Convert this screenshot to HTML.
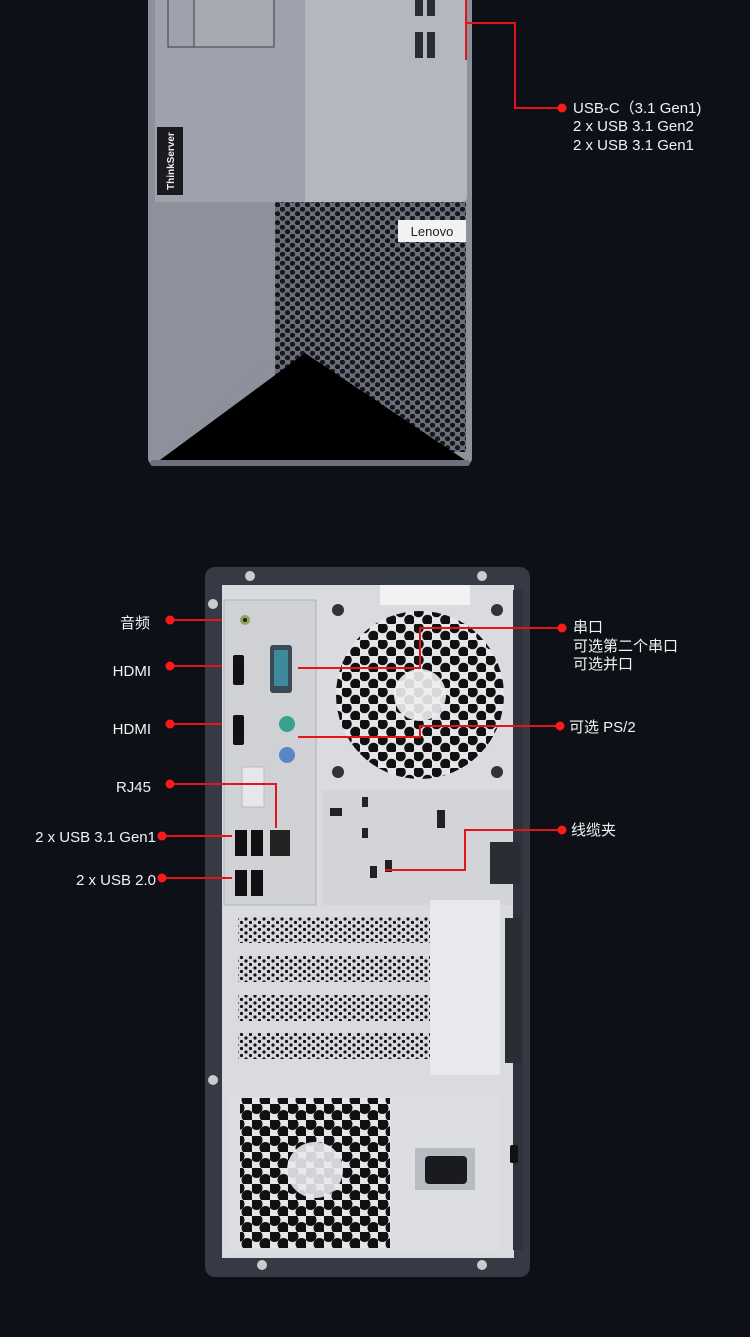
<!DOCTYPE html>
<html><head><meta charset="utf-8"><style>
html,body{margin:0;padding:0;background:#0d1017;}
body{width:750px;height:1332px;overflow:hidden;}
svg text{font-family:"Liberation Sans","Noto Sans CJK SC",sans-serif;fill:#f2f2f2;}
</style></head><body>
<svg width="750" height="1332" viewBox="0 0 750 1332" xmlns="http://www.w3.org/2000/svg">
<defs>
<pattern id="mesh" width="10" height="9" patternUnits="userSpaceOnUse">
<rect width="10" height="9" fill="#6a6f7a"/>
<circle cx="2.5" cy="2.2" r="2.6" fill="#15171c"/><circle cx="7.5" cy="6.7" r="2.6" fill="#15171c"/>
</pattern>
<pattern id="fanhex" width="18" height="16" patternUnits="userSpaceOnUse">
<rect width="18" height="16" fill="#e4e6ea"/>
<circle cx="4.5" cy="4" r="5.3" fill="#111"/><circle cx="13.5" cy="12" r="5.3" fill="#111"/>
</pattern>
<pattern id="psuhex" width="18" height="16" patternUnits="userSpaceOnUse">
<rect width="18" height="16" fill="#e4e6ea"/>
<circle cx="4.5" cy="4" r="6" fill="#111"/><circle cx="13.5" cy="12" r="6" fill="#111"/>
</pattern>
<pattern id="pci" width="9" height="7" patternUnits="userSpaceOnUse">
<rect width="9" height="7" fill="#d6d8dc"/>
<circle cx="3" cy="2" r="1.6" fill="#111"/><circle cx="7.5" cy="5.5" r="1.6" fill="#111"/>
</pattern>
</defs>

<!-- FRONT -->
<rect x="148" y="-10" width="324" height="476" rx="8" fill="#8c919c"/>
<rect x="150" y="460" width="320" height="6" rx="3" fill="#6c717b"/>
<rect x="155" y="-10" width="312" height="212" rx="5" fill="#b3b7bf"/>
<rect x="155" y="-10" width="150" height="212" fill="#9da2ac"/>
<rect x="168" y="-5" width="106" height="52" fill="none" stroke="#3b3f47" stroke-width="1"/>
<rect x="194" y="-5" width="80" height="52" fill="#a5a9b2" stroke="#3b3f47" stroke-width="1"/>
<rect x="157" y="127" width="26" height="68" fill="#1a1b1f"/>
<text x="0" y="0" transform="translate(174,190) rotate(-90)" font-size="10" font-weight="bold" style="fill:#eee">ThinkServer</text>
<rect x="415" y="0" width="8" height="16" fill="#2a2c31"/><rect x="427" y="0" width="8" height="16" fill="#2a2c31"/>
<rect x="415" y="32" width="8" height="26" fill="#2a2c31"/><rect x="427" y="32" width="8" height="26" fill="#2a2c31"/>
<rect x="275" y="202" width="191" height="250" fill="url(#mesh)"/>
<polygon points="150,202 275,202 275,355 160,460 150,460" fill="#8c919c"/>
<polygon points="305,353 160,460 465,460" fill="#000"/>
<rect x="398" y="220" width="68" height="22" fill="#f2f2f2"/>
<text x="432" y="236" font-size="13" text-anchor="middle" style="fill:#222">Lenovo</text>
<!-- front line -->
<polyline points="466,0 466,60" stroke="#e0161b" stroke-width="2" fill="none"/>
<polyline points="466,23 515,23 515,108 560,108" stroke="#e0161b" stroke-width="2" fill="none"/>
<circle cx="562" cy="108" r="4.5" fill="#ff1a1a"/>
<text x="573" y="113" font-size="15">USB-C（3.1 Gen1)</text>
<text x="573" y="131" font-size="15">2 x USB 3.1 Gen2</text>
<text x="573" y="150" font-size="15">2 x USB 3.1 Gen1</text>

<!-- BACK -->
<rect x="205" y="567" width="325" height="710" rx="10" fill="#353a45"/>
<rect x="222" y="585" width="292" height="673" fill="#d9dbdf"/>
<rect x="513" y="590" width="10" height="660" fill="#2d323c"/>
<!-- IO shield -->
<rect x="224" y="600" width="92" height="305" fill="#cfd1d5" stroke="#aeb1b7"/>
<circle cx="245" cy="620" r="5" fill="#8fa25a"/><circle cx="245" cy="620" r="2" fill="#222"/>
<rect x="233" y="655" width="11" height="30" rx="2" fill="#111"/>
<rect x="233" y="715" width="11" height="30" rx="2" fill="#111"/>
<rect x="270" y="645" width="22" height="48" rx="3" fill="#3a4a58"/><rect x="274" y="650" width="14" height="36" fill="#3d8a9a"/>
<circle cx="287" cy="724" r="8" fill="#3aa08e"/>
<circle cx="287" cy="755" r="8" fill="#5a86c8"/>
<rect x="242" y="767" width="22" height="40" fill="#e6e7ea" stroke="#bbb"/>
<rect x="235" y="830" width="12" height="26" fill="#111"/><rect x="251" y="830" width="12" height="26" fill="#111"/>
<rect x="270" y="830" width="20" height="26" fill="#222"/>
<rect x="235" y="870" width="12" height="26" fill="#111"/><rect x="251" y="870" width="12" height="26" fill="#111"/>
<!-- fan -->
<rect x="380" y="585" width="90" height="20" fill="#f2f2f2"/>
<circle cx="420" cy="695" r="84" fill="url(#fanhex)"/>
<circle cx="420" cy="695" r="26" fill="#eceef0" opacity="0.9"/>
<circle cx="338" cy="610" r="6" fill="#333"/><circle cx="497" cy="610" r="6" fill="#333"/>
<circle cx="338" cy="772" r="6" fill="#333"/><circle cx="497" cy="772" r="6" fill="#333"/>
<rect x="322" y="790" width="190" height="115" fill="#d2d4d8"/>
<rect x="330" y="808" width="12" height="8" fill="#222"/><rect x="362" y="797" width="6" height="10" fill="#222"/>
<rect x="362" y="828" width="6" height="10" fill="#222"/><rect x="437" y="810" width="8" height="18" fill="#222"/>
<rect x="385" y="860" width="7" height="12" fill="#222"/><rect x="370" y="866" width="7" height="12" fill="#222"/>
<rect x="490" y="842" width="30" height="42" fill="#2a2d33"/>
<!-- PCI -->
<rect x="238" y="917" width="192" height="26" fill="url(#pci)"/>
<rect x="238" y="956" width="192" height="26" fill="url(#pci)"/>
<rect x="238" y="995" width="192" height="26" fill="url(#pci)"/>
<rect x="238" y="1033" width="192" height="26" fill="url(#pci)"/>
<rect x="430" y="900" width="70" height="175" fill="#e8e9ec"/>
<rect x="505" y="918" width="16" height="145" fill="#2a2d33"/>
<!-- PSU -->
<rect x="228" y="1097" width="272" height="155" fill="#dcdee2"/>
<rect x="240" y="1098" width="150" height="150" fill="url(#psuhex)"/>
<circle cx="315" cy="1170" r="28" fill="#e8e9ec" opacity="0.9"/>
<rect x="415" y="1148" width="60" height="42" fill="#b8bbc1"/>
<rect x="425" y="1156" width="42" height="28" rx="4" fill="#1a1b1f"/>
<rect x="510" y="1145" width="8" height="18" rx="2" fill="#111"/>
<circle cx="213" cy="604" r="5" fill="#ccc"/><circle cx="250" cy="576" r="5" fill="#ccc"/><circle cx="482" cy="576" r="5" fill="#ccc"/>
<circle cx="213" cy="1080" r="5" fill="#ccc"/><circle cx="262" cy="1265" r="5" fill="#ccc"/><circle cx="482" cy="1265" r="5" fill="#ccc"/>

<!-- back lines -->
<g stroke="#e0161b" stroke-width="2" fill="none">
<polyline points="170,620 222,620"/>
<polyline points="170,666 222,666"/>
<polyline points="170,724 222,724"/>
<polyline points="170,784 276,784 276,828"/>
<polyline points="162,836 232,836"/>
<polyline points="162,878 232,878"/>
<polyline points="560,628 420,628 420,668 298,668"/>
<polyline points="558,726 420,726 420,737 298,737"/>
<polyline points="560,830 465,830 465,870 385,870"/>
</g>
<g fill="#ff1a1a">
<circle cx="170" cy="620" r="4.5"/><circle cx="170" cy="666" r="4.5"/><circle cx="170" cy="724" r="4.5"/>
<circle cx="170" cy="784" r="4.5"/><circle cx="162" cy="836" r="4.5"/><circle cx="162" cy="878" r="4.5"/>
<circle cx="562" cy="628" r="4.5"/><circle cx="560" cy="726" r="4.5"/><circle cx="562" cy="830" r="4.5"/>
</g>
<g font-size="15" text-anchor="end">
<text x="150" y="628">音频</text>
<text x="151" y="676">HDMI</text>
<text x="151" y="734">HDMI</text>
<text x="151" y="792">RJ45</text>
<text x="156" y="842">2 x USB 3.1 Gen1</text>
<text x="156" y="885">2 x USB 2.0</text>
</g>
<g font-size="15">
<text x="573" y="632">串口</text>
<text x="573" y="651">可选第二个串口</text>
<text x="573" y="669">可选并口</text>
<text x="569" y="732">可选 PS/2</text>
<text x="571" y="835">线缆夹</text>
</g>
</svg>
</body></html>
